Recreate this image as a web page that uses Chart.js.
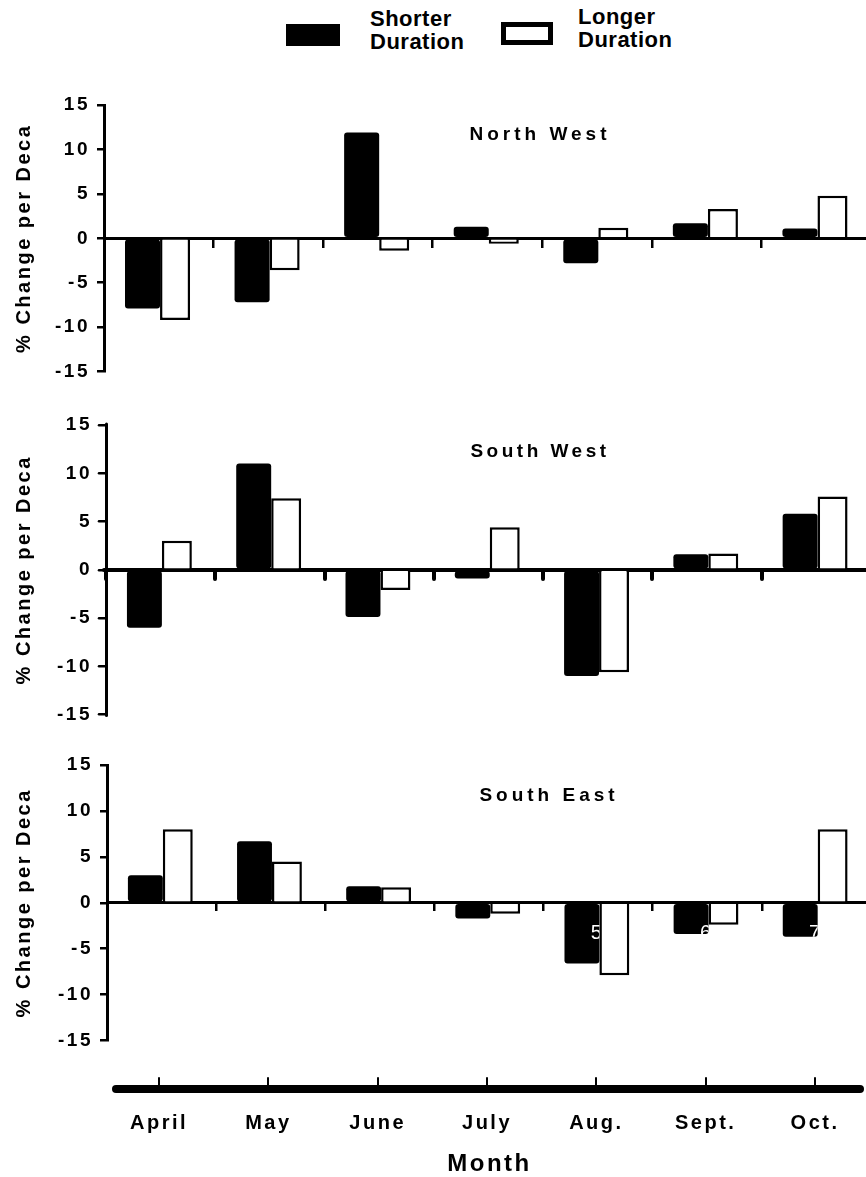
<!DOCTYPE html>
<html>
<head>
<meta charset="utf-8">
<script src="https://cdn.jsdelivr.net/npm/chart.js@4.4.1/dist/chart.umd.min.js"></script>
<style>
  html, body { margin: 0; padding: 0; background: #fff; overflow: hidden; }
  #page { position: relative; width: 866px; height: 1177px; overflow: hidden; background: #fff;
          font-family: "Liberation Sans", Arial, sans-serif; }
  #page canvas { position: absolute; left: 0; }
  .swatch { position: absolute; box-sizing: border-box; }
  .swatch.short { left: 286px; top: 24px; width: 54px; height: 22px; background: #000; }
  .swatch.long { left: 501px; top: 22px; width: 52px; height: 23px; border: 5px solid #000; background: #fff; }
  .legend-text { position: absolute; font-weight: bold; font-size: 22px; line-height: 23px; letter-spacing: 0.5px; color: #000; }
</style>
</head>
<body>
<div id="page">
  <div class="swatch short"></div>
  <div class="legend-text" style="left:370px; top:7px;">Shorter<br>Duration</div>
  <div class="swatch long"></div>
  <div class="legend-text" style="left:578px; top:5px;">Longer<br>Duration</div>

  <canvas id="nw" width="880" height="310" style="top:80px"></canvas>
  <canvas id="sw" width="880" height="333" style="top:400px"></canvas>
  <canvas id="se" width="880" height="319" style="top:740px"></canvas>
  <canvas id="months" width="866" height="139" style="top:1040px"></canvas>
</div>
<script>
// month categories
const months = ['April', 'May', 'June', 'July', 'Aug.', 'Sept.', 'Oct.'];

// % change per decade
const shorterNW = [-7.9, -7.2, 11.9, 1.3, -2.8, 1.7, 1.1];
const longerNW  = [-9.2, -3.6, -1.4, -0.6, 1.2, 3.3, 4.8];
const shorterSW = [-6.0, 11.0, -4.9, -0.9, -11.0, 1.6, 5.8];
const longerSW  = [3.0, 7.4, -2.1, 4.4, -10.6, 1.7, 7.6];
const shorterSE = [3.0, 6.7, 1.8, -1.7, -6.6, -3.4, -3.7];
const longerSE  = [8.0, 4.5, 1.7, -1.2, -7.9, -2.4, 8.0];

// stray labels printed inside the SE black bars
const seBarNotes = ['', '', '', '', '5', '6', '7'];

const yTitle = '% Change per Deca';
const FONT = '"Liberation Sans", Arial, sans-serif';

Chart.defaults.font.family = FONT;
Chart.defaults.font.weight = 'bold';
Chart.defaults.color = '#000';

// letter spacing + line caps for the whole canvas
const canvasStyle = {
    id: 'canvasStyle',
    beforeDraw(chart, args, opts) {
        chart.ctx.letterSpacing = opts.spacing || '0px';
        chart.ctx.lineCap = opts.cap || 'butt';
    }
};

// region name inside the plot area
const panelTitle = {
    id: 'panelTitle',
    afterDatasetsDraw(chart, args, opts) {
        if (!opts.text) return;
        const { ctx, chartArea } = chart;
        ctx.save();
        ctx.letterSpacing = opts.spacing;
        ctx.font = 'bold 19px ' + FONT;
        ctx.fillStyle = '#000';
        ctx.textAlign = 'center';
        ctx.textBaseline = 'middle';
        ctx.fillText(opts.text, opts.x, chartArea.top + opts.dy);
        ctx.restore();
    }
};

// white digits clipped to the black bars
const barNotes = {
    id: 'barNotes',
    afterDatasetsDraw(chart, args, opts) {
        if (!opts.labels) return;
        const { ctx } = chart;
        const zero = chart.scales.y.getPixelForValue(0);
        chart.getDatasetMeta(0).data.forEach((bar, i) => {
            const txt = opts.labels[i];
            if (!txt) return;
            const { x, y, base, width } = bar.getProps(['x', 'y', 'base', 'width'], true);
            ctx.save();
            ctx.beginPath();
            ctx.rect(x - width / 2, Math.min(y, base), width, Math.abs(base - y));
            ctx.clip();
            ctx.letterSpacing = '0px';
            ctx.fillStyle = '#fff';
            ctx.font = '20px ' + FONT;
            ctx.textAlign = 'center';
            ctx.textBaseline = 'middle';
            ctx.fillText(txt, x + width / 2 - 3, zero + 31);
            ctx.restore();
        });
    }
};

const makePanel = (id, shorter, longer, axisLeft, title, axisStyle, notes) => {
    const ctx = document.getElementById(id).getContext('2d');
    return new Chart(ctx, {
        type: 'bar',
        data: {
            labels: months,
            datasets: [{
                label: 'Shorter Duration',
                data: shorter,
                backgroundColor: '#000',
                borderWidth: 0,
                borderRadius: 3,
                borderSkipped: false,
                categoryPercentage: 0.594,
                barPercentage: 1.077
            }, {
                label: 'Longer Duration',
                data: longer,
                backgroundColor: '#fff',
                borderColor: '#000',
                borderWidth: 2.5,
                categoryPercentage: 0.594,
                barPercentage: 0.923
            }]
        },
        options: {
            responsive: false,
            animation: false,
            devicePixelRatio: 1,
            layout: { padding: { top: 25, bottom: 15, left: 0, right: 9 } },
            plugins: {
                legend: { display: false },
                tooltip: { enabled: false },
                canvasStyle: { spacing: '2.5px', cap: axisStyle.cap },
                panelTitle: title,
                barNotes: { labels: notes }
            },
            scales: {
                x: {
                    type: 'category',
                    position: { y: 0 },
                    afterFit: (s) => { s.height = 0; },
                    ticks: { display: false },
                    grid: {
                        drawOnChartArea: false, drawTicks: true, offset: true,
                        tickLength: axisStyle.tick, color: '#000', lineWidth: axisStyle.tickWidth
                    },
                    border: { color: '#000', width: axisStyle.zeroWidth }
                },
                y: {
                    min: -15,
                    max: 15,
                    afterFit: (s) => { s.width = axisLeft; },
                    ticks: { stepSize: 5, color: '#000', padding: 7, font: { size: 19, weight: 'bold' } },
                    grid: { drawOnChartArea: false, drawTicks: true, tickLength: 7, color: '#000', lineWidth: 2.5 },
                    border: { color: '#000', width: 3 },
                    title: {
                        display: true,
                        text: yTitle,
                        color: '#000',
                        font: { size: 20, weight: 'bold' },
                        padding: { top: 12, bottom: 0 }
                    }
                }
            }
        },
        plugins: [canvasStyle, panelTitle, barNotes]
    });
};

makePanel('nw', shorterNW, longerNW, 104,
    { text: 'North West', x: 540, dy: 30, spacing: '4px' },
    { cap: 'butt', tick: 8, tickWidth: 2.5, zeroWidth: 3 }, null);
makePanel('sw', shorterSW, longerSW, 106,
    { text: 'South West', x: 540, dy: 27, spacing: '3.5px' },
    { cap: 'round', tick: 7, tickWidth: 4, zeroWidth: 4 }, null);
makePanel('se', shorterSE, longerSE, 107,
    { text: 'South East', x: 549, dy: 31, spacing: '4px' },
    { cap: 'butt', tick: 7, tickWidth: 2.5, zeroWidth: 3 }, seBarNotes);

// shared month axis at the bottom
new Chart(document.getElementById('months').getContext('2d'), {
    type: 'line',
    data: { datasets: [] },
    options: {
        responsive: false,
        animation: false,
        devicePixelRatio: 1,
        layout: { padding: { top: 38, bottom: 0, left: 120, right: 7 } },
        plugins: {
            legend: { display: false },
            tooltip: { enabled: false },
            canvasStyle: { spacing: '2.5px', cap: 'round' }
        },
        scales: {
            x: {
                type: 'linear',
                min: -0.357,
                max: 6.402,
                afterFit: (s) => { s.height = 90; },
                ticks: {
                    stepSize: 1,
                    includeBounds: false,
                    autoSkip: false,
                    maxRotation: 0,
                    padding: 22,
                    color: '#000',
                    font: { size: 20, weight: 'bold' },
                    callback: (v) => months[Math.round(v)]
                },
                grid: { drawOnChartArea: true, drawTicks: false, color: '#000', lineWidth: 2 },
                border: { display: true, color: '#000', width: 8 },
                title: {
                    display: true,
                    text: 'Month',
                    color: '#000',
                    font: { size: 24, weight: 'bold' },
                    padding: { top: 0, bottom: 0 }
                }
            },
            y: { display: false, min: 0, max: 1 }
        }
    },
    plugins: [canvasStyle]
});
</script>
</body>
</html>
